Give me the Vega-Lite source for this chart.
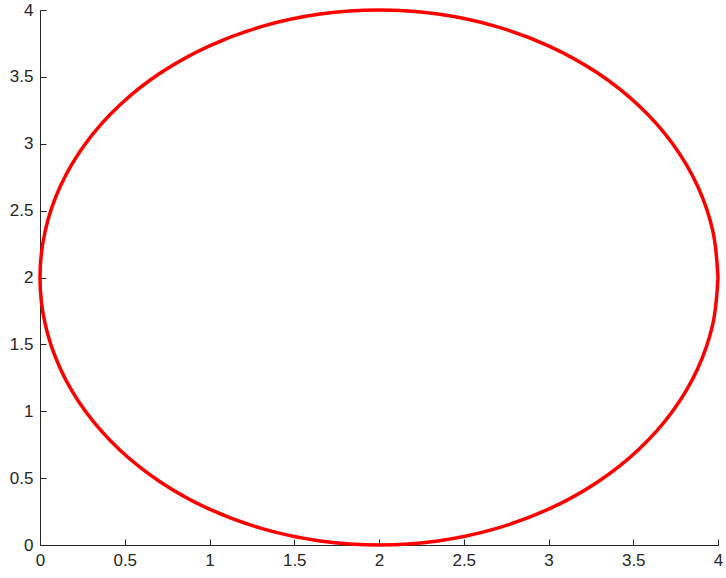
{
  "$schema": "https://vega.github.io/schema/vega-lite/v6.json",
  "width": 678,
  "height": 535,
  "autosize": {"type": "none"},
  "padding": {"left": 40, "top": 10, "right": 8, "bottom": 33},
  "background": "white",
  "config": {
    "view": {"stroke": null},
    "axis": {
      "grid": false,
      "domainColor": "#262626",
      "tickColor": "#262626",
      "tickSize": -6,
      "labelPadding": 13,
      "format": "~g",
      "labelColor": "#262626",
      "labelFont": "Liberation Sans",
      "labelFontSize": 17,
      "title": null
    }
  },
  "data": {
    "values": [
      {"t": 0, "x": 4, "y": 2},
      {"t": 10, "x": 3.9696, "y": 2.3473},
      {"t": 20, "x": 3.8794, "y": 2.684},
      {"t": 30, "x": 3.7321, "y": 3},
      {"t": 40, "x": 3.5321, "y": 3.2856},
      {"t": 50, "x": 3.2856, "y": 3.5321},
      {"t": 60, "x": 3, "y": 3.7321},
      {"t": 70, "x": 2.684, "y": 3.8794},
      {"t": 80, "x": 2.3473, "y": 3.9696},
      {"t": 90, "x": 2, "y": 4},
      {"t": 100, "x": 1.6527, "y": 3.9696},
      {"t": 110, "x": 1.316, "y": 3.8794},
      {"t": 120, "x": 1, "y": 3.7321},
      {"t": 130, "x": 0.7144, "y": 3.5321},
      {"t": 140, "x": 0.4679, "y": 3.2856},
      {"t": 150, "x": 0.2679, "y": 3},
      {"t": 160, "x": 0.1206, "y": 2.684},
      {"t": 170, "x": 0.0304, "y": 2.3473},
      {"t": 180, "x": 0, "y": 2},
      {"t": 190, "x": 0.0304, "y": 1.6527},
      {"t": 200, "x": 0.1206, "y": 1.316},
      {"t": 210, "x": 0.2679, "y": 1},
      {"t": 220, "x": 0.4679, "y": 0.7144},
      {"t": 230, "x": 0.7144, "y": 0.4679},
      {"t": 240, "x": 1, "y": 0.2679},
      {"t": 250, "x": 1.316, "y": 0.1206},
      {"t": 260, "x": 1.6527, "y": 0.0304},
      {"t": 270, "x": 2, "y": 0},
      {"t": 280, "x": 2.3473, "y": 0.0304},
      {"t": 290, "x": 2.684, "y": 0.1206},
      {"t": 300, "x": 3, "y": 0.2679},
      {"t": 310, "x": 3.2856, "y": 0.4679},
      {"t": 320, "x": 3.5321, "y": 0.7144},
      {"t": 330, "x": 3.7321, "y": 1},
      {"t": 340, "x": 3.8794, "y": 1.316},
      {"t": 350, "x": 3.9696, "y": 1.6527},
      {"t": 360, "x": 4, "y": 2}
    ]
  },
  "mark": {"type": "line", "color": "#ff0000", "strokeWidth": 3.5, "interpolate": "cardinal", "clip": false},
  "encoding": {
    "order": {"field": "t", "type": "quantitative"},
    "x": {"field": "x", "type": "quantitative", "scale": {"domain": [0, 4], "nice": false, "zero": false},
          "axis": {"values": [0, 0.5, 1, 1.5, 2, 2.5, 3, 3.5, 4], "labelFlush": false}},
    "y": {"field": "y", "type": "quantitative", "scale": {"domain": [0, 4], "nice": false, "zero": false},
          "axis": {"values": [0, 0.5, 1, 1.5, 2, 2.5, 3, 3.5, 4], "labelFlush": false}}
  }
}
